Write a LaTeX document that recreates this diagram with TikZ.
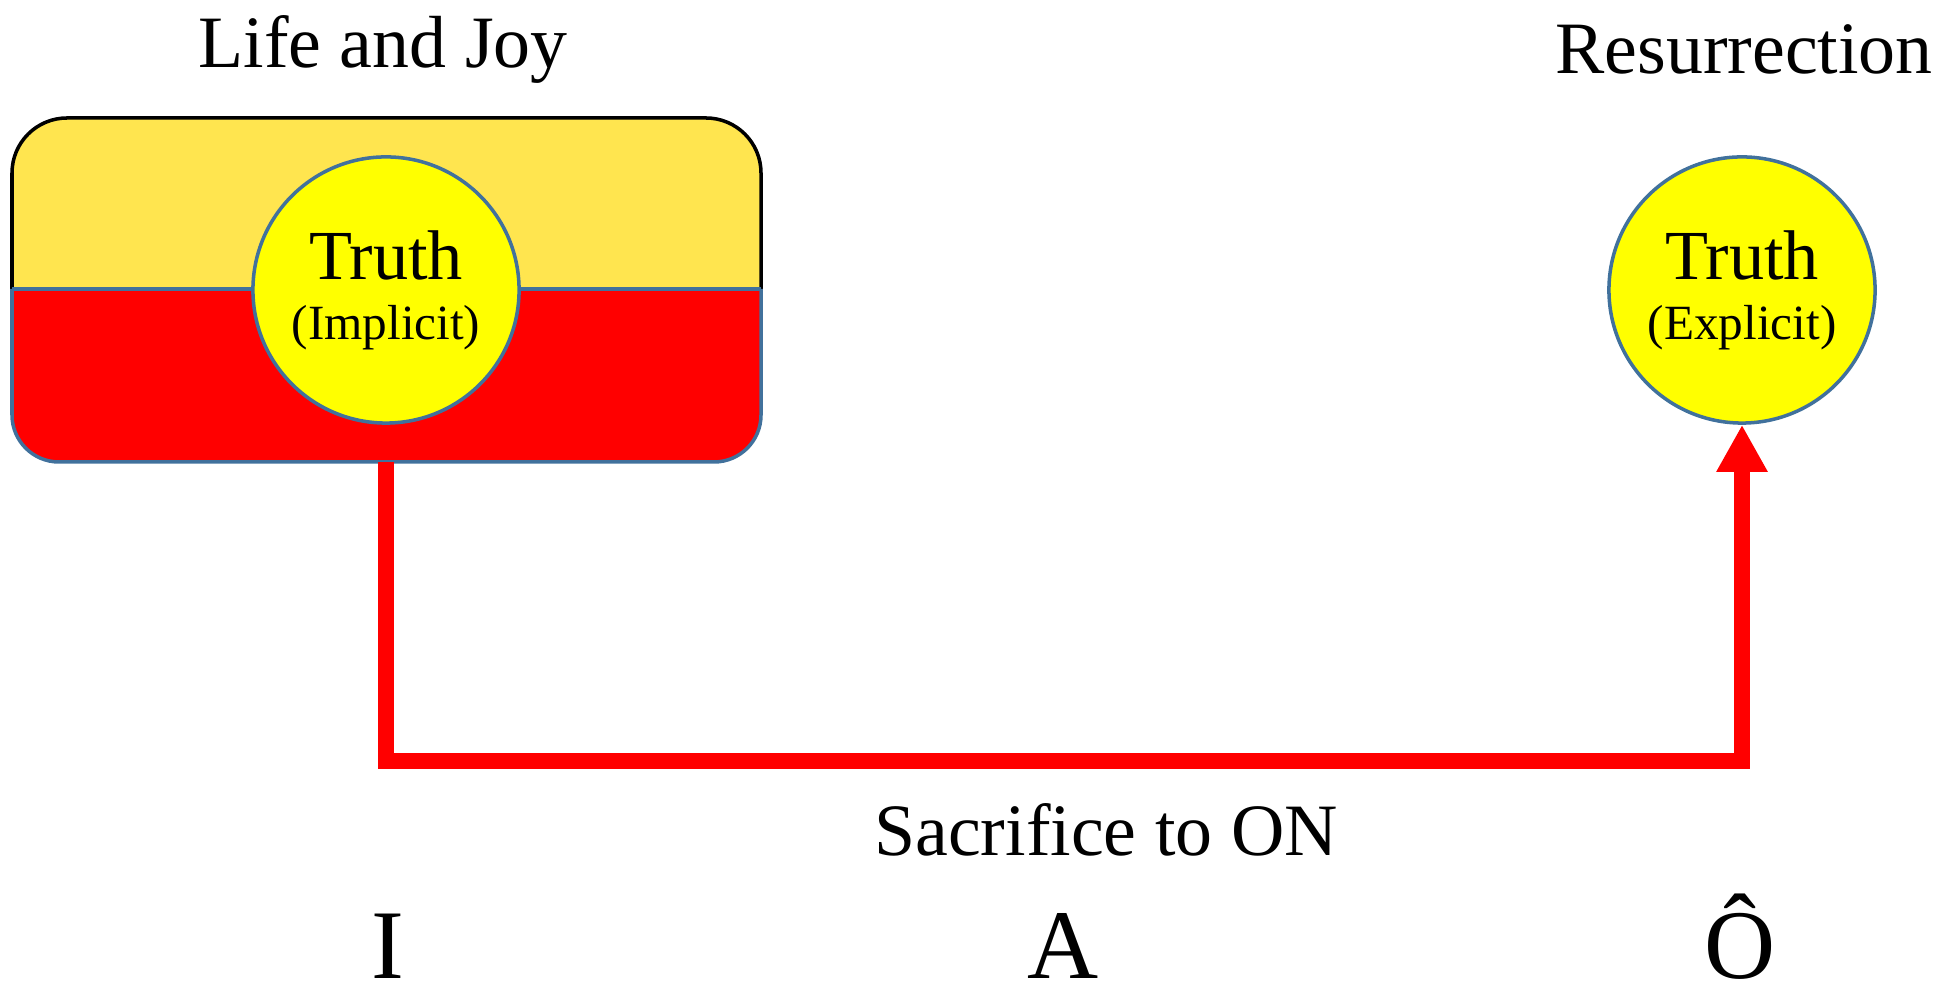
\documentclass[tikz,border=0pt]{standalone}
\usepackage{fontspec}
\setmainfont{Liberation Serif}
\usetikzlibrary{arrows.meta}
\definecolor{joyyellow}{RGB}{255,229,79}
\definecolor{truthyellow}{RGB}{255,255,0}
\definecolor{lifered}{RGB}{255,0,0}
\definecolor{rimblue}{RGB}{65,113,156}
\tikzset{
  truth/.style={circle, draw=rimblue, line width=1pt, fill=truthyellow,
    minimum size=2.66cm, inner sep=0pt, align=center,
    font=\fontsize{20pt}{17pt}\selectfont},
  title/.style={anchor=base, font=\fontsize{21pt}{25pt}\selectfont},
  vowel/.style={anchor=base, inner sep=0pt, font=\fontsize{28pt}{34pt}\selectfont},
  sacrifice/.style={lifered, line width=4.3pt, line join=miter,
    -{Triangle[length=4.7mm,width=4.8mm]}}
}

\begin{document}
\begin{tikzpicture}[x=0.01cm,y=0.01cm]

    \useasboundingbox (0,0) rectangle (1946,1001);

    % Kotak atas (kuning)
    \draw[fill=joyyellow, line width=1pt, rounded corners=5.5mm]
        (12,712) -- (12,883) -- (761,883) -- (761,712);

    % Kotak bawah (merah)
    \draw[fill=lifered, draw=rimblue, line width=1pt, rounded corners=4.7mm]
        (12,712) -- (12,539) -- (761,539) -- (761,712);
    \draw[rimblue, line width=1pt] (12,712) -- (761,712);
    \coordinate (boxfoot) at (386,539);

    % Lingkaran kebenaran
    \node[truth] (implicit) at (386,711)
        {Truth\\{\fontsize{14pt}{17pt}\selectfont(Implicit)}};
    \node[truth] (explicit) at (1742,711)
        {Truth\\{\fontsize{14pt}{17pt}\selectfont(Explicit)}};

    % Judul
    \node[title] (life) at (383,933) {Life and Joy};
    \node[title] (resurrection) at (1744,927) {Resurrection};

    % Panah pengorbanan
    \coordinate (turn) at (386,240);
    \draw[sacrifice] (boxfoot) -- (turn) -| (explicit.south);
    \node[title] (on) at (1106,145) {Sacrifice to ON};

    % Huruf I A O
    \node[vowel] (i) at (388,22) {I};
    \node[vowel] (a) at (1063,22) {A};
    \node[vowel] (o) at (1740,22) {Ô};

\end{tikzpicture}
\end{document}
